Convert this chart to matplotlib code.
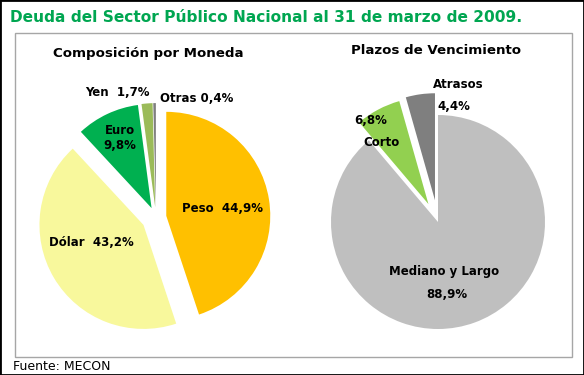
import matplotlib

matplotlib.use("Agg")
import matplotlib.pyplot as plt
from matplotlib.patches import Rectangle

# composición por moneda (%), clockwise from 12 o'clock
moneda = ["Peso", "Dólar", "Euro", "Yen", "Otras"]
moneda_pct = [44.9, 43.2, 9.8, 1.7, 0.4]
moneda_colors = ["#FFC000", "#F8F89C", "#00B050", "#9BBB59", "#7F7F7F"]

# plazos de vencimiento (%)
plazos = ["Mediano y Largo", "Corto", "Atrasos"]
plazos_pct = [88.9, 6.8, 4.4]
plazos_colors = ["#BFBFBF", "#92D050", "#7F7F7F"]

W, H = 584, 375


def fmt(v):
    return f"{v:.1f}".replace(".", ",") + "%"


def Y(py):
    # pixel row -> data y (data y grows upward)
    return H - py


fig = plt.figure(figsize=(W / 100, H / 100), dpi=100)
ax = fig.add_axes([0, 0, 1, 1])

# explode is in data units (pixels here)
r1, r2 = 104, 107
ax.pie(moneda_pct, colors=moneda_colors, startangle=90, counterclock=False,
       explode=[x * r1 for x in (0.1, 0.14, 0.1, 0.1, 0.1)],
       center=(156, Y(217.5)), radius=r1, wedgeprops=dict(linewidth=0))
ax.pie(plazos_pct, colors=plazos_colors, startangle=90, counterclock=False,
       explode=[x * r2 for x in (0, 0.19, 0.205)],
       center=(438, Y(222)), radius=r2, wedgeprops=dict(linewidth=0))

ax.set_xlim(0, W)
ax.set_ylim(0, H)
ax.set_aspect("equal")
ax.axis("off")

# frames
ax.add_patch(Rectangle((0, 0), W, H, fill=False, ec="black", lw=2, clip_on=False))
ax.add_patch(Rectangle((15, Y(357)), 557, 324, fill=False, ec="#A6A6A6", lw=1))

ax.text(10, Y(17), "Deuda del Sector Público Nacional al 31 de marzo de 2009.",
        color="#00A651", fontsize=11.1, fontweight="bold", va="center", ha="left")
ax.text(13, Y(367), "Fuente: MECON", fontsize=9, va="center", ha="left")

ax.text(148, Y(53), "Composición por Moneda", fontsize=9.6, fontweight="bold",
        ha="center", va="center")
ax.text(436, Y(51), "Plazos de Vencimiento", fontsize=9.6, fontweight="bold",
        ha="center", va="center")

lbl = dict(fontsize=8.5, fontweight="bold", ha="center", va="center")
ax.text(222, Y(209), f"{moneda[0]}  {fmt(moneda_pct[0])}", **lbl)
ax.text(91, Y(242), f"{moneda[1]}  {fmt(moneda_pct[1])}", **lbl)
ax.text(120, Y(138), f"{moneda[2]}\n{fmt(moneda_pct[2])}", linespacing=1.25, **lbl)
ax.text(117, Y(93), f"{moneda[3]}  {fmt(moneda_pct[3])}", **lbl)
ax.text(197, Y(98), f"{moneda[4]} {fmt(moneda_pct[4])}", **lbl)

ax.text(444, Y(272), plazos[0], **lbl)
ax.text(447, Y(295), fmt(plazos_pct[0]), **lbl)
ax.text(371, Y(120), fmt(plazos_pct[1]), **lbl)
ax.text(382, Y(142), plazos[1], **lbl)
ax.text(458, Y(85), plazos[2], **lbl)
ax.text(454, Y(106), fmt(plazos_pct[2]), **lbl)

fig.savefig("out.png", dpi=100)
